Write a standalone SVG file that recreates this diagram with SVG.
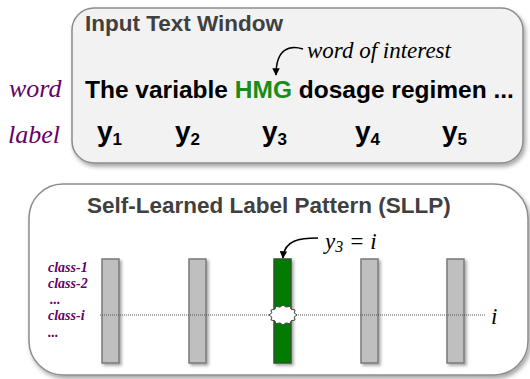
<svg xmlns="http://www.w3.org/2000/svg" width="530" height="379" viewBox="0 0 530 379">
<style>
.title{font-family:"Liberation Sans",Arial,sans-serif;font-weight:bold;font-size:22.5px;fill:#404040}
.sent{font-family:"Liberation Sans",Arial,sans-serif;font-weight:bold;font-size:24.5px;fill:#000}
.lab{font-family:"Liberation Sans",Arial,sans-serif;font-weight:bold;font-size:28px;fill:#000}
.sub{font-size:17px}
.side{font-family:"Liberation Serif","Times New Roman",serif;font-style:italic;font-size:26px;fill:#660066}
.cls{font-family:"Liberation Serif","Times New Roman",serif;font-style:italic;font-weight:bold;font-size:14px;fill:#660066}
.note{font-family:"Liberation Serif","Times New Roman",serif;font-style:italic;font-size:23px;fill:#000}
.bar{fill:#bfbfbf;stroke:#7a7a7a;stroke-width:1.5}
.box{stroke:#8c8c8c;stroke-width:1.5}
.arr{fill:none;stroke:#000;stroke-width:1.5}
</style>
<defs>
<filter id="sh" x="-10%" y="-10%" width="120%" height="130%">
<feDropShadow dx="2" dy="3" stdDeviation="2" flood-color="#000" flood-opacity="0.35"/>
</filter>
<filter id="sh2" x="-50%" y="-10%" width="200%" height="130%">
<feDropShadow dx="2" dy="2" stdDeviation="1.5" flood-color="#000" flood-opacity="0.35"/>
</filter>
<marker id="ah" viewBox="0 0 10 10" refX="9" refY="5" markerWidth="5" markerHeight="5" orient="auto">
<path d="M0,0 L10,5 L0,10 z" fill="#000"/>
</marker>
</defs>

<g id="input-window">
<rect class="box" x="72" y="8" width="451" height="155" rx="22" fill="#f2f2f2" filter="url(#sh)"/>
<text class="title" x="85" y="31">Input Text Window</text>
<text class="sent" x="85" y="98">The variable <tspan fill="#1a8c1a">HMG</tspan> dosage regimen ...</text>
<text class="lab" x="97" y="141">y<tspan class="sub" dy="4">1</tspan></text>
<text class="lab" x="175" y="141">y<tspan class="sub" dy="4">2</tspan></text>
<text class="lab" x="262" y="141">y<tspan class="sub" dy="4">3</tspan></text>
<text class="lab" x="355" y="141">y<tspan class="sub" dy="4">4</tspan></text>
<text class="lab" x="442" y="141">y<tspan class="sub" dy="4">5</tspan></text>
</g>

<g id="side-labels">
<text class="side" x="9" y="97">word</text>
<text class="side" x="8" y="143">label</text>
</g>

<g id="word-of-interest">
<text class="note" x="307" y="58">word of interest</text>
</g>

<g id="sllp">
<rect class="box" x="29" y="184" width="499" height="191" rx="34" fill="#fff" filter="url(#sh)"/>
<text class="title" x="87" y="213">Self-Learned Label Pattern (SLLP)</text>
<text class="cls" x="48" y="272">class-1</text>
<text class="cls" x="48" y="288">class-2</text>
<text class="cls" x="50" y="304">...</text>
<text class="cls" x="48" y="320">class-i</text>
<text class="cls" x="48" y="337">...</text>
</g>

<g id="bars">
<rect class="bar" x="102" y="259" width="17" height="104" filter="url(#sh2)"/>
<rect class="bar" x="189" y="259" width="17" height="104" filter="url(#sh2)"/>
<rect x="274" y="259" width="17" height="104" fill="#007a00" stroke="#2d5a2d" stroke-width="1.5" filter="url(#sh2)"/>
<rect class="bar" x="361" y="259" width="17" height="104" filter="url(#sh2)"/>
<rect class="bar" x="447" y="259" width="17" height="104" filter="url(#sh2)"/>
</g>

<g id="connectors">
<line x1="100" y1="315" x2="486" y2="315" stroke="#555" stroke-width="1" stroke-dasharray="1,1"/>
<path class="arr" d="M303,49 C290,45 276,48 276,75" marker-end="url(#ah)"/>
<path class="arr" d="M318,238 C300,238 284,240 283,258" marker-end="url(#ah)"/>
</g>

<g id="burst">
<polygon points="297,315 294.1,317.1 295.1,320 291.1,320.8 290,323.7 286,322.9 283,325 280,322.9 276,323.7 274.9,320.8 270.9,320 271.9,317.1 269,315 271.9,312.9 270.9,310 274.9,309.2 276,306.3 280,307.1 283,305 286,307.1 290,306.3 291.1,309.2 295.1,310 294.1,312.9" fill="#fff" stroke="#444" stroke-width="1"/>
</g>

<g id="labels">
<text class="note" x="325" y="249" font-size="24">y<tspan font-size="16" dy="3">3</tspan><tspan dy="-3"> = i</tspan></text>
<text class="note" x="491" y="324" font-size="30">i</text>
</g>
</svg>
